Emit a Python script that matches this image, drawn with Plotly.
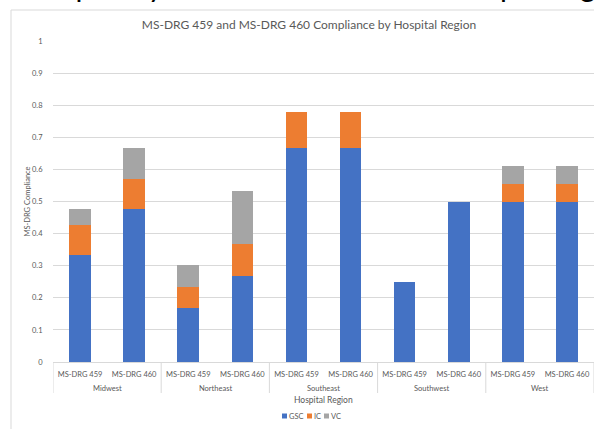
import plotly.graph_objects as go

# Regions and DRG codes forming the two-level category axis
regions = ["Midwest", "Northeast", "Southeast", "Southwest", "West"]
drgs = ["MS-DRG 459", "MS-DRG 460"]

# Compliance components per region / DRG (stacked)
gsc = [0.333, 0.476, 0.167, 0.267, 0.667, 0.667, 0.25, 0.5, 0.5, 0.5]
ic = [0.095, 0.095, 0.067, 0.100, 0.111, 0.111, 0.0, 0.0, 0.056, 0.056]
vc = [0.048, 0.095, 0.067, 0.167, 0.0, 0.0, 0.0, 0.0, 0.056, 0.056]

series_names = ["GSC", "IC", "VC"]
series_colors = ["#4472C4", "#ED7D31", "#A5A5A5"]
series_values = [gsc, ic, vc]

y_ticks = [0, 0.1, 0.2, 0.3, 0.4, 0.5, 0.6, 0.7, 0.8, 0.9, 1]

# One slot per (region, DRG) pair, grouped by region
n_inner = len(drgs)
x_inner = [d for _ in regions for d in drgs]
x_pos = list(range(len(x_inner)))

W, H = 594, 429
ML, MR, MT, MB = 53, 0, 41, 67
PW, PH = W - ML - MR, H - MT - MB


def px_x(x):
    return (x - ML) / PW


def px_y(y):
    return (H - MB - y) / PH


FONT = "Lato"
GRAY = "#595959"
GRID = "#d9d9d9"

fig = go.Figure()
for name, vals, color in zip(series_names, series_values, series_colors):
    fig.add_trace(go.Bar(
        name=name, x=x_pos, y=vals,
        marker=dict(color=color, line=dict(width=0)),
        showlegend=False,
    ))

# Chart frame
shapes = [dict(
    type="rect", xref="paper", yref="paper",
    x0=px_x(11), x1=px_x(W + 20), y0=px_y(H + 20), y1=px_y(10),
    line=dict(color=GRID, width=1), fillcolor="rgba(0,0,0,0)", layer="below",
)]

annotations = [
    dict(
        text="Complexity and Clinical Validation Reporting",
        xref="paper", yref="paper", x=px_x(12), y=px_y(5),
        xanchor="left", yanchor="bottom", showarrow=False,
        font=dict(size=30, color="black", family=FONT),
    ),
    dict(
        text="Hospital Region", xref="paper", yref="paper",
        x=0.5, y=px_y(400), xanchor="center", yanchor="middle",
        showarrow=False, borderpad=0,
        font=dict(size=8.5, color=GRAY, family=FONT),
    ),
]

# Region group labels and the dividers between groups
for i, region in enumerate(regions):
    annotations.append(dict(
        text=region, xref="x", yref="paper",
        x=i * n_inner + (n_inner - 1) / 2, y=px_y(388),
        xanchor="center", yanchor="middle", showarrow=False,
        font=dict(size=7.5, color=GRAY, family=FONT),
    ))
for i in range(len(regions) + 1):
    xb = i * n_inner - 0.5
    shapes.append(dict(
        type="line", xref="x", yref="paper",
        x0=xb, x1=xb, y0=0, y1=px_y(393),
        line=dict(color=GRID, width=1),
    ))

# Compact legend row drawn as small squares plus labels
legend_left = [282, 307, 324]
legend_y = 416
for left, name, color in zip(legend_left, series_names, series_colors):
    shapes.append(dict(
        type="rect", xref="paper", yref="paper",
        x0=px_x(left), x1=px_x(left + 5),
        y0=px_y(legend_y + 2.5), y1=px_y(legend_y - 2.5),
        line=dict(width=0), fillcolor=color,
    ))
    annotations.append(dict(
        text=name, xref="paper", yref="paper",
        x=px_x(left + 5.5), y=px_y(legend_y),
        xanchor="left", yanchor="middle", showarrow=False, borderpad=0,
        font=dict(size=7.5, color=GRAY, family=FONT),
    ))

fig.update_layout(
    width=W, height=H,
    margin=dict(l=ML, r=MR, t=MT, b=MB),
    barmode="stack", bargap=0.6,
    paper_bgcolor="white", plot_bgcolor="white",
    font=dict(family=FONT, color=GRAY),
    title=dict(
        text="MS-DRG 459 and MS-DRG 460 Compliance by Hospital Region",
        x=309 / W, xanchor="center", y=1 - 25 / H, yanchor="middle",
        font=dict(size=12, color=GRAY, family=FONT),
    ),
    xaxis=dict(
        range=[-0.5, len(x_pos) - 0.5],
        tickmode="array", tickvals=x_pos, ticktext=x_inner, tickangle=0,
        tickfont=dict(size=7.5, color=GRAY),
        ticks="outside", ticklen=5, tickcolor="rgba(0,0,0,0)",
        showline=True, linecolor=GRID, linewidth=1,
        showgrid=False, zeroline=False,
    ),
    yaxis=dict(
        range=[0, 1], tickvals=y_ticks, ticktext=[f"{v:g}" for v in y_ticks],
        tickfont=dict(size=7.5, color=GRAY),
        showgrid=True, gridcolor=GRID, gridwidth=1,
        zeroline=False, showline=False,
        ticks="outside", ticklen=8, tickcolor="rgba(0,0,0,0)",
        title=dict(text="MS-DRG Compliance", font=dict(size=7.5, color=GRAY), standoff=0),
    ),
    shapes=shapes,
    annotations=annotations,
)

fig.write_html("out.html")
